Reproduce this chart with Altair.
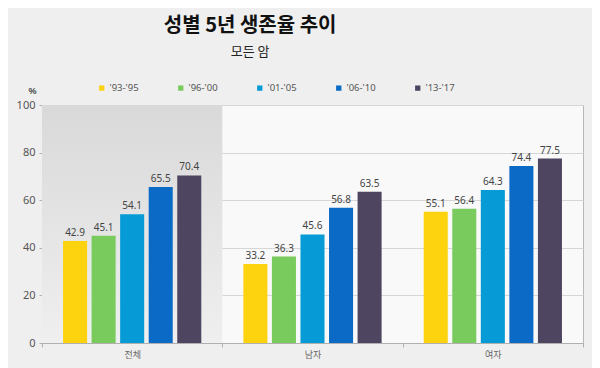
import altair as alt
import pandas as pd

groups = ["전체", "남자", "여자"]
periods = ["'93-'95", "'96-'00", "'01-'05", "'06-'10", "'13-'17"]
total = [42.9, 45.1, 54.1, 65.5, 70.4]
male = [33.2, 36.3, 45.6, 56.8, 63.5]
female = [55.1, 56.4, 64.3, 74.4, 77.5]
colors = ["#FDD20E", "#7ACB5D", "#069BD6", "#0A6AC6", "#4E4560"]

rows = []
for g, vals in zip(groups, [total, male, female]):
    for p, v in zip(periods, vals):
        rows.append({"group": g, "period": p, "value": v})
df = pd.DataFrame(rows)
shade = pd.DataFrame({"group": ["전체"], "top": [100], "bottom": [0]})

FONT = "Noto Sans CJK KR"

xscale = alt.Scale(domain=groups, paddingInner=0, paddingOuter=0)

xaxis = alt.Axis(title=None, labelFontSize=9, labelColor="#666666", labelFont=FONT,
                 labelAngle=0, tickBand="extent", tickSize=4, tickColor="#b0b0b0",
                 domainColor="#b0b0b0", labelPadding=3, grid=False)

bg = alt.Chart(shade).mark_rect(
    color=alt.Gradient(gradient="linear",
                       stops=[alt.GradientStop(color="#d9d9d9", offset=0),
                              alt.GradientStop(color="#efefef", offset=1)],
                       x1=0, x2=0, y1=0, y2=1)
).encode(
    x=alt.X("group:N", scale=xscale, axis=xaxis, sort=groups),
    y=alt.Y("top:Q"),
    y2="bottom:Q",
)

yaxis = alt.Axis(values=[0, 20, 40, 60, 80, 100], title="%", titleAngle=0,
                 titleFontSize=9, titleFontWeight="bold", titleColor="#444444",
                 titleX=-10, titleY=-10, titleAlign="center",
                 labelFontSize=11, labelColor="#555555", labelFont="Noto Sans",
                 gridColor="#d6d6d6", domain=False, tickSize=3, tickColor="#b0b0b0",
                 labelPadding=4)

bars = alt.Chart(df).mark_bar().encode(
    x=alt.X("group:N", scale=xscale, axis=xaxis, sort=groups),
    xOffset=alt.XOffset("period:N", sort=periods,
                        scale=alt.Scale(paddingInner=0.158, paddingOuter=0.737)),
    y=alt.Y("value:Q", scale=alt.Scale(domain=[0, 100]), axis=yaxis),
    color=alt.Color("period:N", sort=periods,
                    scale=alt.Scale(domain=periods, range=colors),
                    legend=alt.Legend(title=None, orient="none", direction="horizontal",
                                      legendX=55, legendY=-22, padding=0,
                                      symbolType="square", gridAlign="all",
                                      symbolSize=28, symbolStrokeWidth=0,
                                      labelFontSize=9.5, labelColor="#555555",
                                      labelFont="Noto Sans", columnPadding=37,
                                      labelOffset=3)),
)

labels = alt.Chart(df).mark_text(dy=-8, fontSize=10, color="#444444", font="Noto Sans").encode(
    x=alt.X("group:N", scale=xscale, axis=xaxis, sort=groups),
    xOffset=alt.XOffset("period:N", sort=periods,
                        scale=alt.Scale(paddingInner=0.158, paddingOuter=0.737)),
    y=alt.Y("value:Q"),
    text=alt.Text("value:Q", format=".1f"),
)

chart = alt.layer(bg, bars, labels).properties(
    width=541, height=238,
    autosize=alt.AutoSizeParams(type="none"),
    padding={"left": 34, "top": 97, "right": 9, "bottom": 25},
    background="#efefef",
    title=alt.TitleParams(text="성별 5년 생존율 추이", subtitle="모든 암",
                          anchor="start", align="center", dx=234, offset=24,
                          font=FONT, fontSize=20, fontWeight="bold", color="#111111",
                          subtitleFont=FONT, subtitleFontSize=13, subtitleColor="#222222",
                          subtitlePadding=10),
).configure_view(fill="#f9f9f9", stroke="#b8b8b8")

chart.save("out.html", embed_options={"renderer": "svg", "actions": False})
